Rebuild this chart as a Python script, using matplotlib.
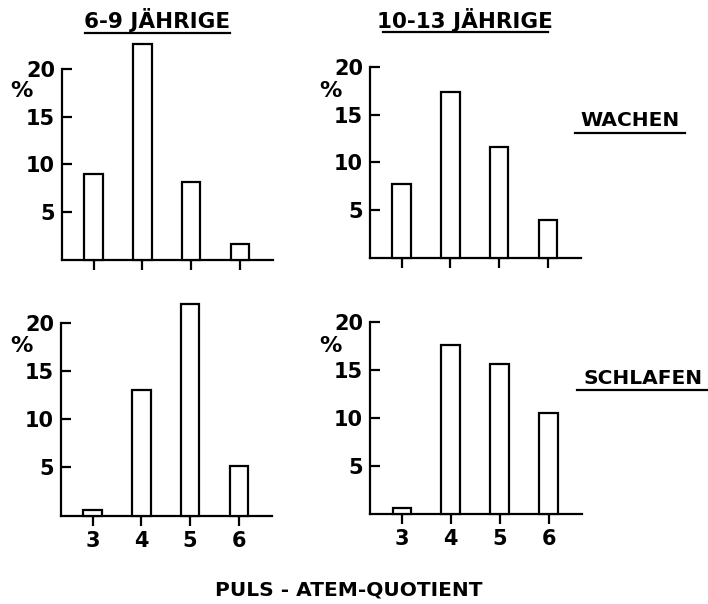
import matplotlib
matplotlib.use('Agg')
import matplotlib.pyplot as plt
from matplotlib.lines import Line2D

W, H = 708, 604

quotient = [3, 4, 5, 6]
tick_labels = ['3', '4', '5', '6']

# percentages
wachen_6_9 = [9.0, 22.6, 8.1, 1.6]
wachen_10_13 = [7.7, 17.4, 11.6, 4.0]
schlafen_6_9 = [0.55, 13.0, 21.9, 5.1]
schlafen_10_13 = [0.6, 17.6, 15.6, 10.5]

col_titles = ['6-9 JÄHRIGE', '10-13 JÄHRIGE']
row_titles = ['WACHEN', 'SCHLAFEN']
xlabel = 'PULS - ATEM-QUOTIENT'

plt.rcParams['font.family'] = ['DejaVu Sans']
plt.rcParams['font.weight'] = 'bold'

fig = plt.figure(figsize=(W / 100, H / 100), dpi=100)


def px_axes(x0, y_base, x1, y_top):
    # rect from pixel coords (top-left origin)
    return fig.add_axes([x0 / W, 1 - y_base / H, (x1 - x0) / W, (y_base - y_top) / H])


def panel(ax, values, bottom_row):
    ax.bar(quotient, values, width=0.38, facecolor='white', edgecolor='black',
           linewidth=1.6, clip_on=False, zorder=3)
    ax.set_xlim(2.35, 6.68)
    ax.set_ylim(0, 20)
    ax.spines['top'].set_visible(False)
    ax.spines['right'].set_visible(False)
    ax.spines['left'].set_linewidth(1.6)
    ax.spines['bottom'].set_linewidth(1.6)
    ax.set_yticks([5, 10, 15, 20])
    ax.set_yticklabels(['5', '10', '15', '20'])
    ax.tick_params(axis='y', direction='in', length=7, width=1.6, pad=5, labelsize=15)
    ax.set_xticks(quotient)
    ax.tick_params(axis='x', direction='out', length=7, width=1.6, pad=4, labelsize=15)
    if bottom_row:
        ax.set_xticklabels(tick_labels)
    else:
        ax.set_xticklabels([])
    ax.patch.set_alpha(0)


ax1 = px_axes(62, 259.5, 273, 69)
ax2 = px_axes(370, 258, 581, 66.7)
ax3 = px_axes(61, 515.5, 272, 322.7)
ax4 = px_axes(370, 513.5, 582, 322.3)

panel(ax1, wachen_6_9, False)
panel(ax2, wachen_10_13, False)
panel(ax3, schlafen_6_9, True)
panel(ax4, schlafen_10_13, True)


def ftext(x, y, s, size, ha='center'):
    fig.text(x / W, 1 - y / H, s, ha=ha, va='center', fontsize=size, fontweight='bold')


def uline(x0, x1, y):
    fig.add_artist(Line2D([x0 / W, x1 / W], [1 - y / H, 1 - y / H], color='black', linewidth=1.6))


# percent signs
for x, y in [(21, 91), (330, 91), (21, 346), (330, 346)]:
    ftext(x, y, '%', 16)

# column titles
ftext(157, 20, col_titles[0], 15.5)
uline(85, 230, 33)
ftext(465, 20, col_titles[1], 15.5)
uline(383, 548, 32)

# row titles
ftext(630, 120, row_titles[0], 14.5)
uline(575, 685, 133)
ftext(643, 378, row_titles[1], 14.5)
uline(577, 708, 390)

ftext(349, 590, xlabel, 14.5)

fig.savefig('out.png', dpi=100)
